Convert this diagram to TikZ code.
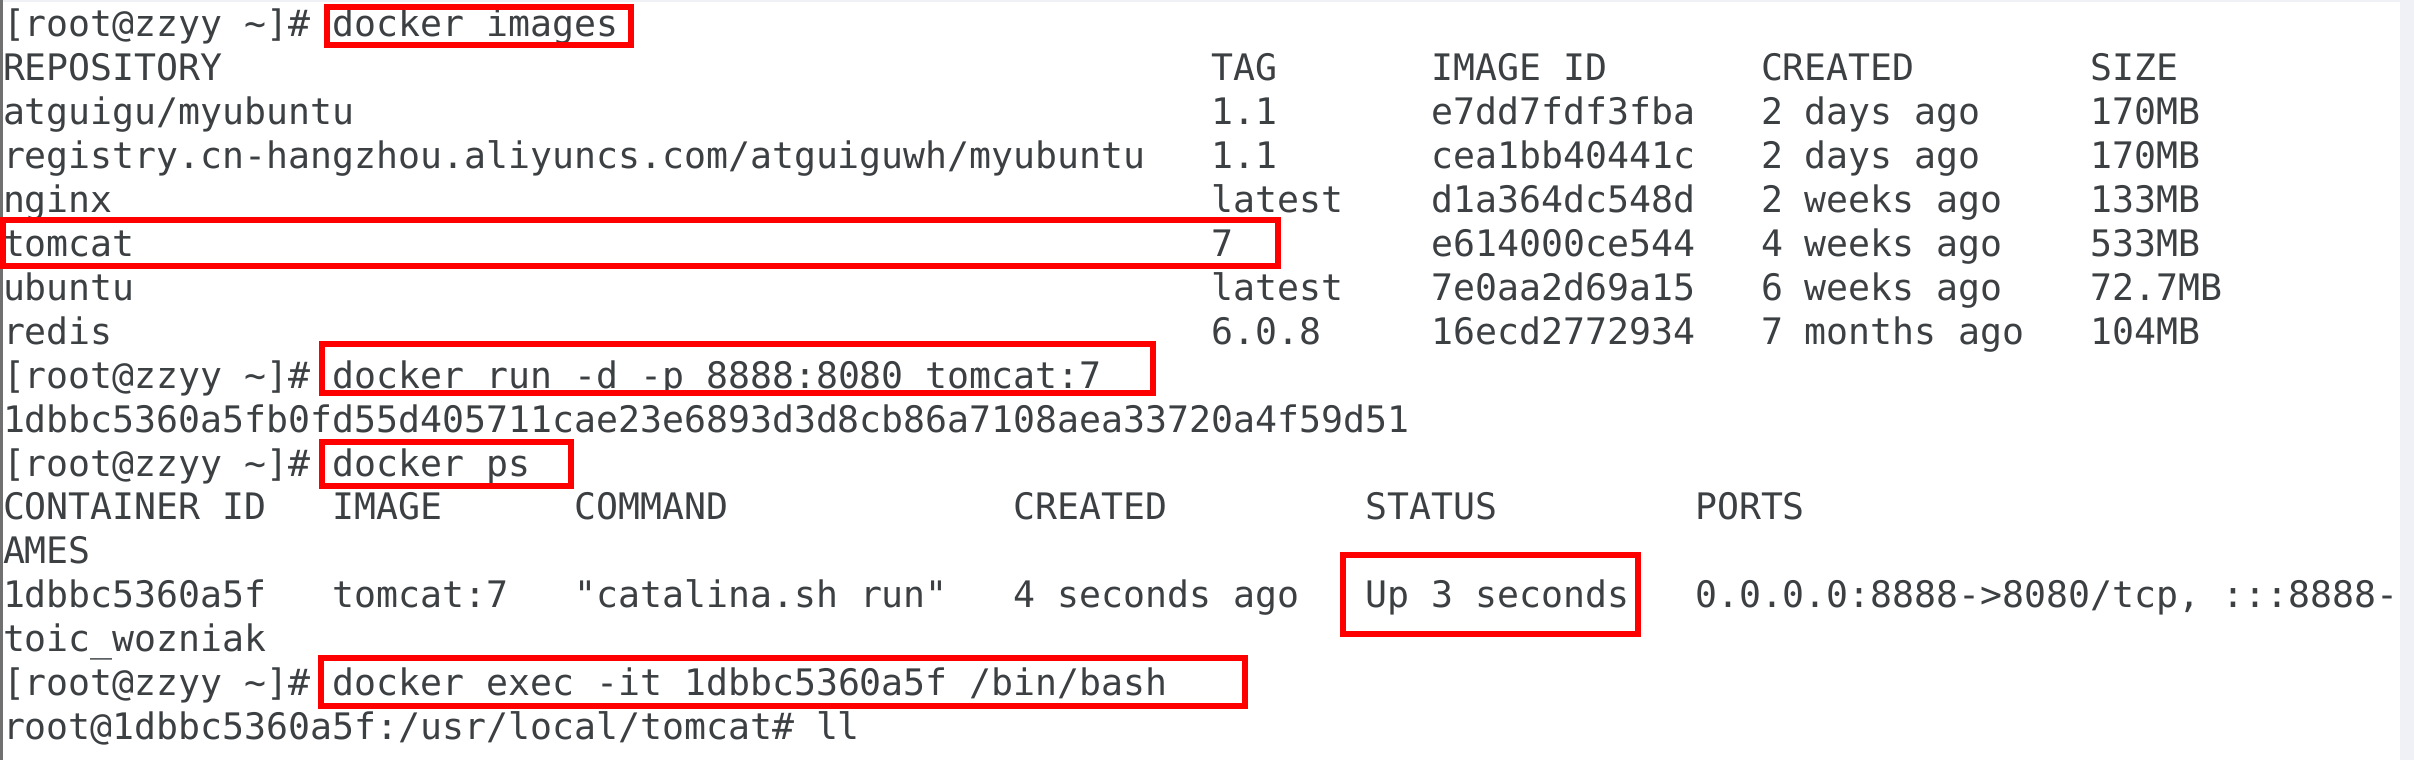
\documentclass[tikz,border=0pt]{standalone}
\usepackage{fontspec}
\newfontfamily\termfont{DejaVu Sans Mono}
\definecolor{termtext}{HTML}{3C4043}
\definecolor{termred}{HTML}{FF0000}
\definecolor{stripgray}{HTML}{EFF1F7}
\definecolor{bordergray}{HTML}{707070}
\tikzset{
  txt/.style={inner sep=0pt, outer sep=0pt, anchor=base west, text=termtext,
              font=\termfont\fontsize{36.5}{44}\selectfont},
  hibox/.style={draw=termred, line width=6pt},
}
\newcommand\tcell[4]{\node[txt] (#1) at ({3+21.975*#2},{37+43.9*#3}) {#4};}
\begin{document}
\begin{tikzpicture}[x=1pt,y=-1pt]
\useasboundingbox (0,0) rectangle (2414,760);
\fill[white] (0,0) rectangle (2414,760);
\fill[stripgray] (0,0) rectangle (2414,2);
\fill[stripgray] (2400,0) rectangle (2414,760);
\draw[bordergray, line width=2.5pt] (1.5,0) -- (1.5,760);
% line 0
\tcell{p0}{0}{0}{[root@zzyy \textasciitilde]\#}
\tcell{c0}{15}{0}{docker images}
% line 1 header
\tcell{h1a}{0}{1}{REPOSITORY}
\tcell{h1b}{55}{1}{TAG}
\tcell{h1c}{65}{1}{IMAGE ID}
\tcell{h1d}{80}{1}{CREATED}
\tcell{h1e}{95}{1}{SIZE}
% line 2
\tcell{r2a}{0}{2}{atguigu/myubuntu}
\tcell{r2b}{55}{2}{1.1}
\tcell{r2c}{65}{2}{e7dd7fdf3fba}
\tcell{r2d}{80}{2}{2 days ago}
\tcell{r2e}{95}{2}{170MB}
% line 3
\tcell{r3a}{0}{3}{registry.cn-hangzhou.aliyuncs.com/atguiguwh/myubuntu}
\tcell{r3b}{55}{3}{1.1}
\tcell{r3c}{65}{3}{cea1bb40441c}
\tcell{r3d}{80}{3}{2 days ago}
\tcell{r3e}{95}{3}{170MB}
% line 4
\tcell{r4a}{0}{4}{nginx}
\tcell{r4b}{55}{4}{latest}
\tcell{r4c}{65}{4}{d1a364dc548d}
\tcell{r4d}{80}{4}{2 weeks ago}
\tcell{r4e}{95}{4}{133MB}
% line 5
\tcell{r5a}{0}{5}{tomcat}
\tcell{r5b}{55}{5}{7}
\tcell{r5c}{65}{5}{e614000ce544}
\tcell{r5d}{80}{5}{4 weeks ago}
\tcell{r5e}{95}{5}{533MB}
% line 6
\tcell{r6a}{0}{6}{ubuntu}
\tcell{r6b}{55}{6}{latest}
\tcell{r6c}{65}{6}{7e0aa2d69a15}
\tcell{r6d}{80}{6}{6 weeks ago}
\tcell{r6e}{95}{6}{72.7MB}
% line 7
\tcell{r7a}{0}{7}{redis}
\tcell{r7b}{55}{7}{6.0.8}
\tcell{r7c}{65}{7}{16ecd2772934}
\tcell{r7d}{80}{7}{7 months ago}
\tcell{r7e}{95}{7}{104MB}
% line 8
\tcell{p8}{0}{8}{[root@zzyy \textasciitilde]\#}
\tcell{c8}{15}{8}{docker run -d -p 8888:8080 tomcat:7}
% line 9
\tcell{l9}{0}{9}{1dbbc5360a5fb0fd55d405711cae23e6893d3d8cb86a7108aea33720a4f59d51}
% line 10
\tcell{p10}{0}{10}{[root@zzyy \textasciitilde]\#}
\tcell{c10}{15}{10}{docker ps}
% line 11 header
\tcell{h11a}{0}{11}{CONTAINER ID}
\tcell{h11b}{15}{11}{IMAGE}
\tcell{h11c}{26}{11}{COMMAND}
\tcell{h11d}{46}{11}{CREATED}
\tcell{h11e}{62}{11}{STATUS}
\tcell{h11f}{77}{11}{PORTS}
% line 12
\tcell{l12}{0}{12}{AMES}
% line 13
\tcell{r13a}{0}{13}{1dbbc5360a5f}
\tcell{r13b}{15}{13}{tomcat:7}
\tcell{r13c}{26}{13}{"catalina.sh run"}
\tcell{r13d}{46}{13}{4 seconds ago}
\tcell{r13e}{62}{13}{Up 3 seconds}
\tcell{r13f}{77}{13}{0.0.0.0:8888->8080/tcp, :::8888-}
% line 14
\tcell{l14}{0}{14}{toic\_wozniak}
% line 15
\tcell{p15}{0}{15}{[root@zzyy \textasciitilde]\#}
\tcell{c15}{15}{15}{docker exec -it 1dbbc5360a5f /bin/bash}
% line 16
\tcell{l16}{0}{16}{root@1dbbc5360a5f:/usr/local/tomcat\# ll}
% highlight boxes
\draw[hibox] (327,7) rectangle (631,45);
\draw[hibox] (3,220) rectangle (1278,266);
\draw[hibox] (322,344) rectangle (1153,393);
\draw[hibox] (322,442) rectangle (571,486);
\draw[hibox] (1343,555) rectangle (1638,634);
\draw[hibox] (321,658) rectangle (1245,706);
\end{tikzpicture}
\end{document}
